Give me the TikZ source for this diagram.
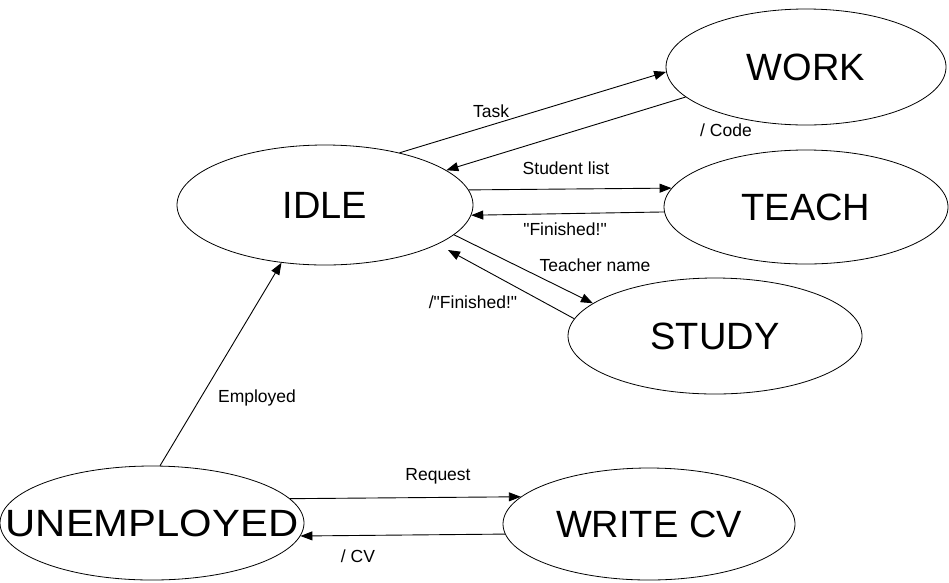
\documentclass[tikz,border=0pt]{standalone}
\usepackage{fontspec}
\usepackage{graphicx}
\newfontfamily\arialf{Liberation Sans}
\usetikzlibrary{shapes.geometric,arrows.meta}
\begin{document}
\begin{tikzpicture}[x=1pt,y=-1pt,
  state/.style={ellipse,draw,line width=0.8pt,inner sep=0pt,font=\arialf\fontsize{38}{40}\selectfont},
  lbl/.style={font=\arialf\fontsize{17.5}{19}\selectfont,inner sep=0pt},
  conn/.style={line width=0.9pt,-{Triangle[length=12pt,width=9pt]}}]
\useasboundingbox[fill=white] (0,0) rectangle (949,582);
\node[state,minimum width=280pt,minimum height=116pt] (work) at (806,67) {\makebox[0pt]{WORK}};
\node[state,minimum width=296pt,minimum height=120pt] (idle) at (325,205) {\makebox[0pt]{IDLE}};
\node[state,minimum width=284pt,minimum height=114pt] (teach) at (806,207) {\makebox[0pt]{TEACH}};
\node[state,minimum width=294pt,minimum height=116pt] (study) at (715,336) {\makebox[0pt]{STUDY}};
\node[state,minimum width=304pt,minimum height=114pt] (unemp) at (152,523) {\makebox[0pt]{\scalebox{1.1}[1]{UNEMPLOYED}}};
\node[state,minimum width=292pt,minimum height=112pt] (cv) at (649,524) {\makebox[0pt]{WRITE CV}};
\coordinate (sf) at (448,250);
\draw[conn] (idle.35) -- (work.182);
\draw[conn] (work.194) -- (idle.16);
\draw[conn] (idle.6) -- (teach.172.8);
\draw[conn] (teach.182.4) -- (idle.356.9);
\draw[conn] (idle.347) -- (study.165.6);
\draw[conn] (study.173.6) -- (sf);
\draw[conn] (unemp.82) -- (idle.233.6);
\draw[conn] (unemp.10.4) -- (cv.168.6);
\draw[conn] (cv.184.4) -- (unemp.355.5);
\node[lbl] (ltask) at (491,111) {Task};
\node[lbl] (lcode) at (726,130) {/ Code};
\node[lbl] (lstud) at (566,168) {Student list};
\node[lbl] (lfin) at (565,229) {"Finished!"};
\node[lbl] (lteach) at (595,265) {Teacher name};
\node[lbl] (lfin2) at (473,302) {/"Finished!"};
\node[lbl] (lemp) at (257,398) {Employed};
\node[lbl] (lreq) at (438,476) {Request};
\node[lbl] (lcv) at (358,556) {/ CV};
\end{tikzpicture}
\end{document}
